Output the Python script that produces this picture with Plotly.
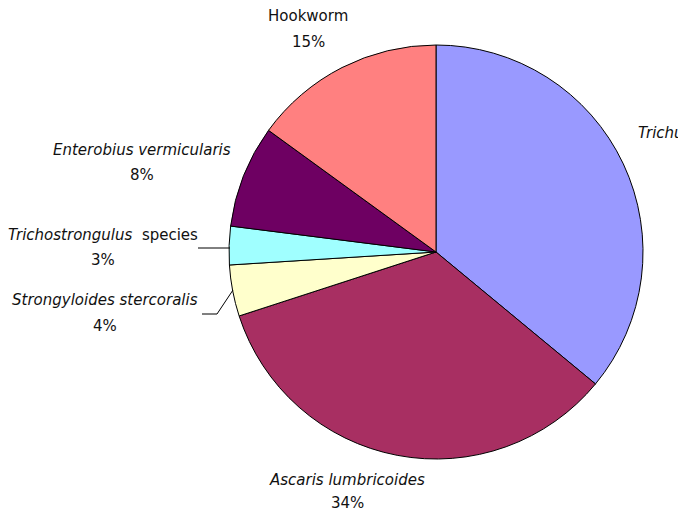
import plotly.graph_objects as go

# Data
labels = ["Trichuris trichiura", "Ascaris lumbricoides", "Strongyloides stercoralis",
          "Trichostrongulus species", "Enterobius vermicularis", "Hookworm"]
label_html = ["<i>Trichuris trichiura</i>", "<i>Ascaris lumbricoides</i>",
              "<i>Strongyloides stercoralis</i>", "<i>Trichostrongulus</i>  species",
              "<i>Enterobius vermicularis</i>", "Hookworm"]
values = [36, 34, 4, 3, 8, 15]
colors = ["#9999FF", "#A82F62", "#FFFFCC", "#A0FFFF", "#6E0062", "#FF8080"]

# page has an 8px body margin; figure fills the rest of the 686x517 window
OFF = 8
W, H = 686 - OFF, 517 - OFF

def px(x):
    return (x - OFF) / W

def py(y):
    return 1 - (y - OFF) / H

cx, cy, r = 436, 252, 207

fig = go.Figure(go.Pie(
    labels=labels, values=values, sort=False, direction="clockwise", rotation=0,
    marker=dict(colors=colors, line=dict(color="#000000", width=1)),
    textinfo="none", hoverinfo="label+percent", showlegend=False,
    domain=dict(x=[px(cx - r), px(cx + r)], y=[py(cy + r), py(cy - r)]),
))

# label layout: (name x, name y, pct y, anchor)
label_pos = [
    (636, 133, 160, "left"),
    (347, 480, 503, "center"),
    (105, 300, 326, "center"),
    (103, 235, 260, "center"),
    (142, 150, 175, "center"),
    (308, 16, 42, "center"),
]
annotations = []
font = dict(family="DejaVu Sans", size=15, color="#111111")
for txt, v, (lx, ly, pyy, anc) in zip(label_html, values, label_pos):
    annotations.append(dict(x=px(lx), y=py(ly), xref="paper", yref="paper", text=txt,
                            showarrow=False, xanchor=anc, yanchor="middle", font=font))
    pct_x = lx if anc == "center" else lx + 85
    annotations.append(dict(x=px(pct_x), y=py(pyy), xref="paper", yref="paper",
                            text=f"{v}%", showarrow=False, xanchor="center",
                            yanchor="middle", font=font))

shapes = [
    dict(type="line", xref="paper", yref="paper", x0=px(198), y0=py(248), x1=px(230), y1=py(248),
         line=dict(color="#000000", width=1)),
    dict(type="path", xref="paper", yref="paper",
         path=f"M {px(202)} {py(314)} L {px(217)} {py(314)} L {px(233)} {py(290)}",
         line=dict(color="#000000", width=1)),
]

fig.update_layout(
    width=W, height=H, margin=dict(l=0, r=0, t=0, b=0),
    paper_bgcolor="white", plot_bgcolor="white",
    annotations=annotations, shapes=shapes,
)

fig.write_html("out.html")
